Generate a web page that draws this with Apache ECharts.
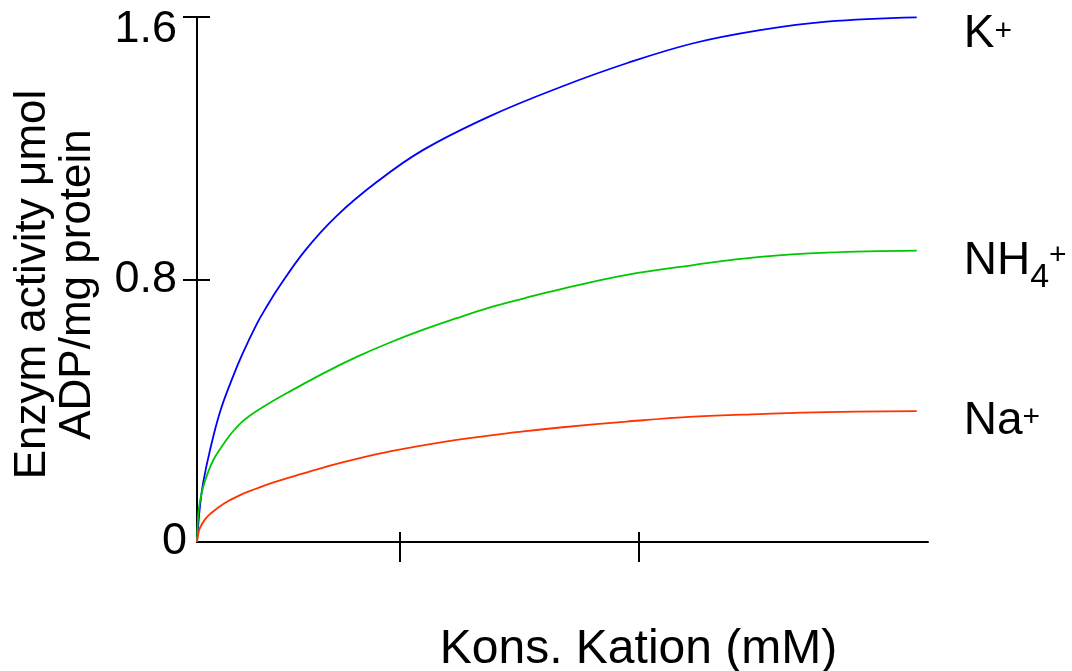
<!DOCTYPE html>
<html><head><meta charset="utf-8">
<script src="https://cdn.jsdelivr.net/npm/echarts@6/dist/echarts.min.js"></script>
<style>html,body{margin:0;padding:0;background:#fff}#c{width:1072px;height:671px}</style>
</head><body><div id="c"></div>
<script>
// Data (x: concentration, arbitrary units; y: enzyme activity)
const kX   = [0, 0.123, 0.259, 0.534, 0.944, 1.424, 1.847, 2.45, 2.873, 3.337, 4.433, 5.734, 7.375, 9.287, 12.025, 14.898, 17.635, 20.368, 23.105, 25.843, 29.537];
const kY   = [0, 0.11, 0.183, 0.28, 0.396, 0.494, 0.57, 0.664, 0.719, 0.774, 0.888, 0.994, 1.097, 1.195, 1.298, 1.386, 1.459, 1.52, 1.56, 1.586, 1.599];
const nh4X = [0, 0.053, 0.123, 0.259, 0.451, 0.669, 0.944, 1.354, 1.601, 1.847, 2.134, 2.45, 3.078, 3.817, 5.183, 6.554, 7.921, 9.287, 10.658, 12.025, 13.391, 14.898, 17.635, 20.368, 23.105, 25.843, 29.537];
const nh4Y = [0, 0.087, 0.124, 0.169, 0.212, 0.25, 0.283, 0.326, 0.347, 0.366, 0.383, 0.399, 0.428, 0.459, 0.514, 0.564, 0.608, 0.647, 0.682, 0.715, 0.742, 0.77, 0.814, 0.844, 0.869, 0.882, 0.888];
const naX  = [0, 0.041, 0.123, 0.328, 0.534, 1.079, 1.765, 2.45, 3.078, 3.817, 5.183, 6.554, 7.921, 10.658, 13.391, 14.898, 17.635, 20.368, 23.105, 25.843, 29.537];
const naY  = [0, 0.021, 0.043, 0.069, 0.085, 0.116, 0.143, 0.163, 0.18, 0.197, 0.227, 0.253, 0.276, 0.311, 0.337, 0.349, 0.367, 0.382, 0.39, 0.396, 0.399];

const yTickValues = [0, 0.8, 1.6];
const yTickLabels = ['0', '0.8', '1.6'];
const xTickValues = [8.33, 18.14];
const xMax = 30;
const yMax = 1.6;
const xTitle = 'Kons. Kation (mM)';
const yTitle = 'Enzym activity μmol\nADP/mg protein';

const pairs = (xs, ys) => xs.map((x, i) => [x, ys[i]]);
const FONT = 'Liberation Sans';

const baseTok = { fontSize: 46, lineHeight: 46, fontFamily: FONT, color: '#000', verticalAlign: 'middle' };
function richFor(shift, supRaise, withSub) {
  const r = {
    b: Object.assign({}, baseTok, { padding: [shift * 2, 0, 0, 0] }),
    sup: { fontSize: 30, lineHeight: 30, fontFamily: FONT, color: '#000', verticalAlign: 'middle',
           padding: [Math.max(0, (shift - supRaise) * 2), 0, Math.max(0, (supRaise - shift) * 2), 0] }
  };
  if (withSub) {
    r.sub = { fontSize: 34, lineHeight: 34, fontFamily: FONT, color: '#000', verticalAlign: 'middle',
              padding: [32 + shift * 2, 0, 0, 0] };
  }
  return r;
}

const series = [
  { name: 'K+', data: pairs(kX, kY), color: '#0000ff', label: '{b|K}{sup|+}', rich: richFor(17, 3, false) },
  { name: 'NH4+', data: pairs(nh4X, nh4Y), color: '#00c800', label: '{b|NH}{sub|4}{sup|+}', rich: richFor(11, 6, true) },
  { name: 'Na+', data: pairs(naX, naY), color: '#ff3300', label: '{b|Na}{sup|+}', rich: richFor(10, 3, false) }
].map(s => ({
  type: 'line', name: s.name, data: s.data, showSymbol: false, symbol: 'none',
  smooth: 0.4,
  lineStyle: { color: s.color, width: 1.8 }, itemStyle: { color: s.color },
  xAxisIndex: 0, yAxisIndex: 0,
  endLabel: { show: true, distance: 47, formatter: s.label, rich: s.rich }
}));

const chart = echarts.init(document.getElementById('c'), null, { renderer: 'canvas' });
chart.setOption({
  animation: false,
  backgroundColor: '#fff',
  grid: { left: 197, right: 144, top: 17, bottom: 129, containLabel: false, outerBoundsMode: 'none' },
  xAxis: [
    { type: 'value', min: 0, max: xMax, position: 'bottom',
      axisLine: { show: true, lineStyle: { color: '#000', width: 2 } },
      axisTick: { show: true, customValues: xTickValues, length: 20, inside: false, lineStyle: { color: '#000', width: 2 } },
      axisLabel: { show: false }, splitLine: { show: false },
      name: xTitle, nameLocation: 'middle', nameGap: 84,
      nameTextStyle: { fontSize: 48, fontFamily: FONT, color: '#000', padding: [0, 0, 0, 152] } },
    { type: 'value', min: 0, max: xMax, position: 'bottom',
      axisLine: { show: false },
      axisTick: { show: true, customValues: xTickValues, length: 10, inside: true, lineStyle: { color: '#000', width: 2 } },
      axisLabel: { show: false }, splitLine: { show: false } }
  ],
  yAxis: [
    { type: 'value', min: 0, max: yMax, position: 'left',
      axisLine: { show: true, lineStyle: { color: '#000', width: 2 } },
      axisTick: { show: true, customValues: yTickValues.slice(1), length: 14, inside: false, lineStyle: { color: '#000', width: 2 } },
      axisLabel: { show: true, customValues: yTickValues.slice(1), margin: 20, fontSize: 45, fontFamily: FONT, color: '#000',
        formatter: v => {
          const i = yTickValues.findIndex(t => Math.abs(t - v) < 1e-9);
          const txt = i >= 0 ? yTickLabels[i] : String(v);
          return i === yTickValues.length - 1 ? '{top|' + txt + '}' : txt;
        },
        rich: { top: { fontSize: 45, fontFamily: FONT, color: '#000', padding: [26, 0, 0, 0] } } },
      splitLine: { show: false },
      name: yTitle, nameLocation: 'middle', nameGap: 97, nameRotate: 90,
      nameTextStyle: { fontSize: 44, lineHeight: 45, fontFamily: FONT, color: '#000', align: 'center', padding: [0, 10, 0, 0] } },
    { type: 'value', min: 0, max: yMax, position: 'left',
      axisLine: { show: false },
      axisTick: { show: true, customValues: yTickValues.slice(1), length: 13, inside: true, lineStyle: { color: '#000', width: 2 } },
      axisLabel: { show: true, customValues: [yTickValues[0]], margin: 10, fontSize: 45, fontFamily: FONT, color: '#000',
        formatter: v => yTickLabels[0] },
      splitLine: { show: false } }
  ],
  series: series
});
</script>
</body></html>
